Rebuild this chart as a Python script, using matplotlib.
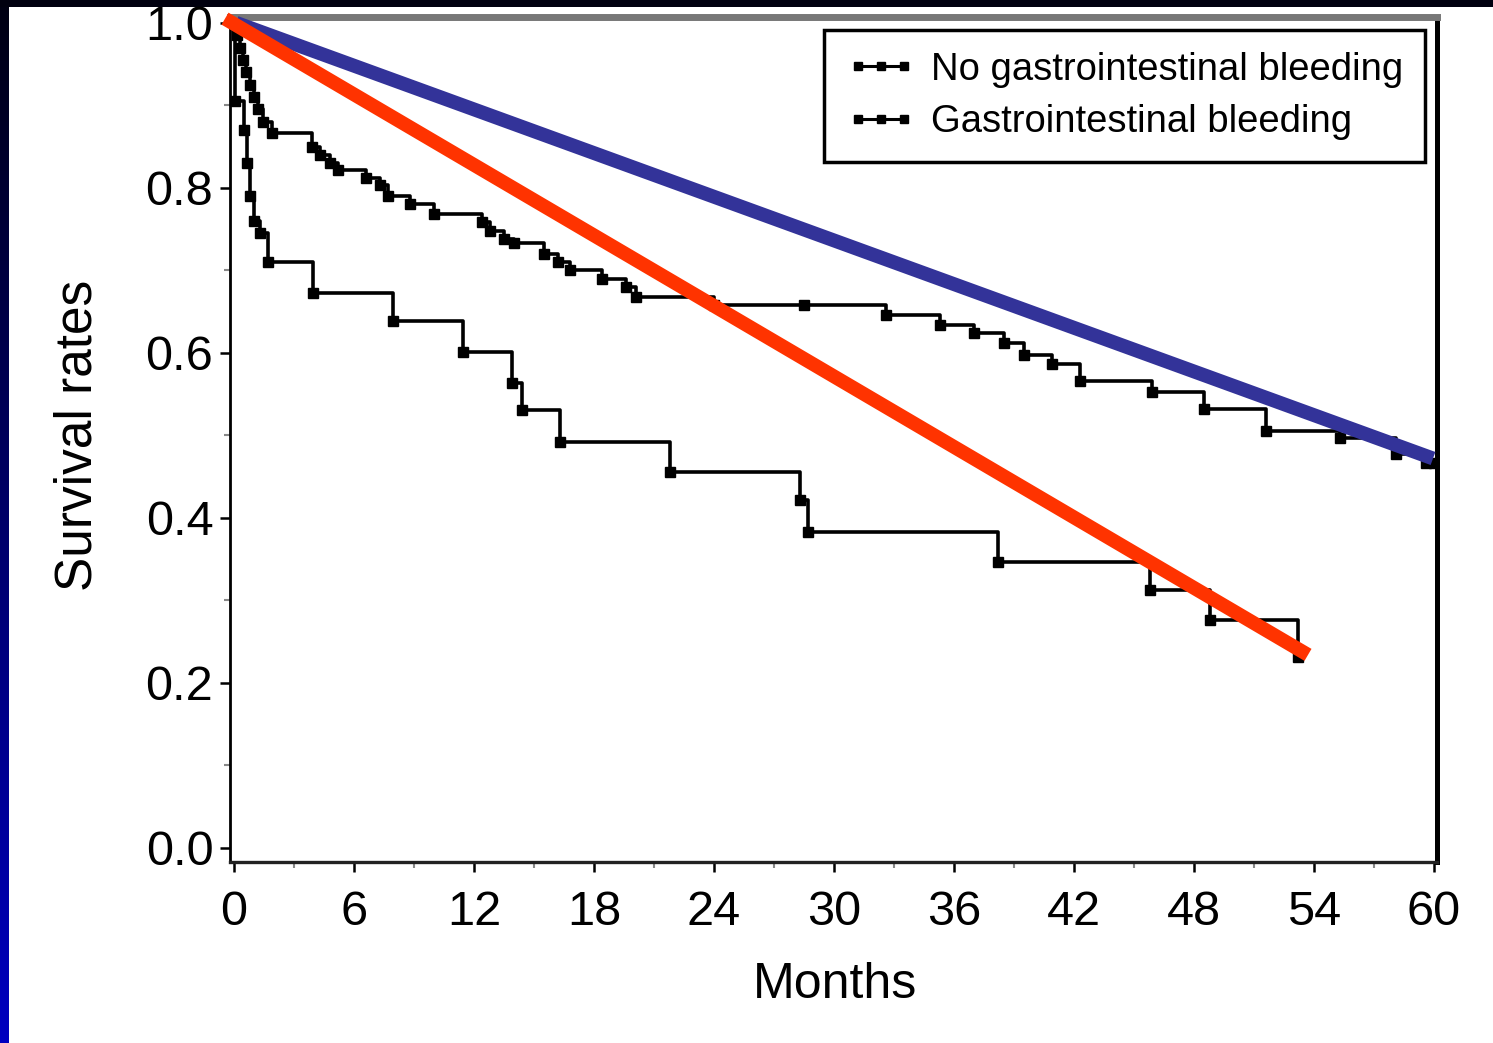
import numpy as np
import matplotlib.pyplot as plt
from matplotlib.lines import Line2D
from matplotlib.colors import LinearSegmentedColormap

plt.rcParams['font.family'] = ['Liberation Sans', 'DejaVu Sans']

# Kaplan-Meier curves (months, survival)
no_bleed_months = [0, 0.15, 0.3, 0.45, 0.6, 0.8, 1.0, 1.2, 1.45, 1.9, 3.9, 4.3, 4.8, 5.2,
                   6.6, 7.3, 7.7, 8.8, 10.0, 12.4, 12.8, 13.5, 14.0, 15.5, 16.2, 16.8,
                   18.4, 19.6, 20.1, 24.0, 28.5, 32.6, 35.3, 37.0, 38.5, 39.5, 40.9,
                   42.3, 45.9, 48.5, 51.6, 55.3, 58.1, 59.6, 60.0]
no_bleed_surv = [1.0, 0.985, 0.97, 0.955, 0.94, 0.925, 0.91, 0.895, 0.88, 0.866, 0.85, 0.84,
                 0.83, 0.822, 0.812, 0.804, 0.79, 0.78, 0.768, 0.758, 0.748, 0.738, 0.733,
                 0.72, 0.71, 0.70, 0.69, 0.68, 0.668, 0.658, 0.658, 0.646, 0.634, 0.624,
                 0.612, 0.598, 0.586, 0.566, 0.552, 0.532, 0.505, 0.497, 0.478, 0.467, 0.467]

bleed_months = [0, 0.05, 0.5, 0.65, 0.8, 1.0, 1.3, 1.7, 3.95, 7.95, 11.45, 13.9, 14.4,
                16.3, 21.8, 28.3, 28.7, 38.2, 45.8, 48.8, 53.2]
bleed_surv = [1.0, 0.905, 0.87, 0.83, 0.79, 0.76, 0.745, 0.71, 0.672, 0.638, 0.601, 0.564,
              0.531, 0.492, 0.456, 0.422, 0.383, 0.347, 0.313, 0.276, 0.232]

# overlaid trend lines (start, end)
blue_x = [0.1, 59.95]
blue_y = [1.0, 0.472]
red_x = [-0.45, 53.7]
red_y = [1.005, 0.234]

xticks = list(range(0, 61, 6))
yticks = [0.0, 0.2, 0.4, 0.6, 0.8, 1.0]
labels = ['No gastrointestinal bleeding', 'Gastrointestinal bleeding']

W, H = 1493, 1043
fig = plt.figure(figsize=(W / 100, H / 100), dpi=100, facecolor='white')

# dark slide border strips
grad = np.linspace(0, 1, 256).reshape(-1, 1)
cmap = LinearSegmentedColormap.from_list('slide', ['#000012', '#0000c0'])
lax = fig.add_axes([0, 0, 9 / W, 1])
lax.imshow(grad, aspect='auto', cmap=cmap, extent=[0, 1, 0, 1], origin='upper')
lax.axis('off')
tax = fig.add_axes([0, 1 - 7 / H, 1, 7 / H])
tax.axis('off')
tax.add_patch(plt.Rectangle((0, 0), 1, 1, color='#00000f', transform=tax.transAxes))

ax = fig.add_axes([230 / W, 1 - 862 / H, 1207 / W, 845 / H])
ax.set_xlim(-0.2, 60.15)
ax.set_ylim(-0.017, 1.007)

ax.step(no_bleed_months, no_bleed_surv, where='post', color='black', lw=2.6,
        marker='s', markersize=7)
ax.step(bleed_months, bleed_surv, where='post', color='black', lw=2.6,
        marker='s', markersize=7)

ax.plot(blue_x, blue_y, color='#333399', lw=10, solid_capstyle='butt', clip_on=False, zorder=5)
ax.plot(red_x, red_y, color='#ff3300', lw=10, solid_capstyle='butt', clip_on=False, zorder=6)

ax.set_xticks(xticks)
ax.set_xticks(np.arange(3, 60, 6), minor=True)
ax.set_yticks(yticks)
ax.set_yticks([0.1, 0.3, 0.5, 0.7, 0.9], minor=True)
ax.set_yticklabels(['%.1f' % v for v in yticks])
ax.tick_params(axis='both', which='major', labelsize=35, length=7, width=1.8, color='black')
ax.tick_params(axis='x', which='major', pad=13)
ax.tick_params(axis='y', which='major', pad=5)
ax.tick_params(axis='both', which='minor', length=4, width=1.5, color='#888888')

ax.spines['left'].set_linewidth(2)
ax.spines['bottom'].set_linewidth(2.4)
ax.spines['bottom'].set_color('#222222')
ax.spines['top'].set_linewidth(5)
ax.spines['top'].set_color('#777777')
ax.spines['right'].set_linewidth(3.6)

fig.text(835 / W, 1 - 985 / H, 'Months', fontsize=36, ha='center', va='center')
fig.text(78 / W, 1 - 435 / H, 'Survival rates', fontsize=37, ha='center', va='center',
         rotation=90)

handles = [Line2D([0], [0], color='black', lw=2.2, marker='s', markersize=6),
           Line2D([0], [0], color='black', lw=2.2, marker='s', markersize=6)]
leg = ax.legend(handles, labels,
                loc='upper right', bbox_to_anchor=(0.99, 0.985), borderaxespad=0,
                fontsize=27.5, numpoints=3, handlelength=1.8, handletextpad=0.4,
                fancybox=False, edgecolor='black', framealpha=1, labelspacing=0.43,
                borderpad=0.58)
leg.get_frame().set_linewidth(2.5)

fig.savefig('out.png', dpi=100, facecolor='white')
